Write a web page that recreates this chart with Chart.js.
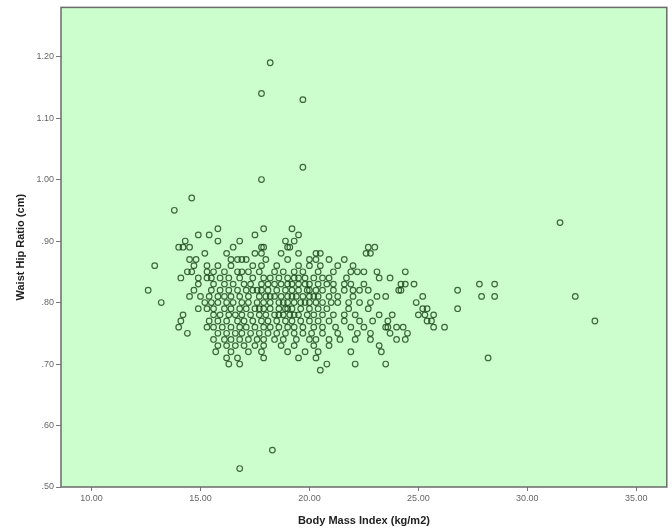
<!DOCTYPE html>
<html>
<head>
<meta charset="utf-8">
<script src="https://cdn.jsdelivr.net/npm/chart.js@4"></script>
<style>
  body { margin: 0; background: #fff; }
  #wrap { width: 672px; height: 531px; }
</style>
</head>
<body>
<div id="wrap"><canvas id="scatterChart"></canvas></div>
<script>
// tick labels
const xTicks = [10, 15, 20, 25, 30, 35];
const yTicks = [0.5, 0.6, 0.7, 0.8, 0.9, 1.0, 1.1, 1.2];

const whrLevels = [0.92, 0.91, 0.90, 0.89, 0.88, 0.87, 0.86, 0.85, 0.84, 0.83, 0.82,
                   0.81, 0.80, 0.79, 0.78, 0.77, 0.76, 0.75, 0.74, 0.73, 0.72, 0.71, 0.70, 0.69];
const bmiRows = [
  [15.8, 17.9, 19.2],
  [14.9, 15.4, 17.5, 19.5],
  [14.3, 15.8, 16.8, 18.9, 19.3],
  [14.0, 14.2, 14.5, 16.5, 17.8, 17.9, 19.0, 19.1, 22.7, 23.0],
  [15.2, 16.2, 17.5, 17.8, 18.7, 19.5, 20.3, 20.5, 22.6, 22.8],
  [14.5, 14.8, 16.4, 16.7, 16.9, 17.1, 18.0, 19.0, 20.0, 20.3, 20.9, 21.6],
  [12.9, 14.7, 15.3, 15.8, 16.4, 17.4, 17.8, 18.5, 19.5, 20.0, 20.5, 21.3, 22.0],
  [14.4, 14.6, 15.3, 15.6, 16.1, 16.7, 16.9, 17.2, 17.7, 18.4, 18.8, 19.3, 19.7, 20.4, 21.1, 21.9, 22.2, 22.5, 23.1, 24.4],
  [14.1, 14.9, 15.3, 15.5, 15.9, 16.3, 16.8, 17.4, 17.9, 18.2, 18.6, 19.0, 19.3, 19.5, 19.8, 20.2, 20.6, 20.9, 21.7, 23.2, 23.7],
  [14.9, 15.6, 16.1, 16.5, 17.0, 17.3, 17.8, 18.1, 18.4, 18.7, 19.0, 19.2, 19.5, 19.8, 20.0, 20.4, 20.8, 21.1, 21.6, 21.9, 22.5, 24.2, 24.4, 24.8],
  [12.6, 14.7, 15.5, 15.9, 16.3, 16.7, 17.1, 17.4, 17.6, 17.8, 18.1, 18.5, 18.9, 19.2, 19.5, 19.9, 20.0, 20.3, 20.6, 21.1, 21.6, 22.0, 22.3, 22.7, 24.1, 24.2],
  [14.5, 15.0, 15.4, 15.8, 16.1, 16.4, 16.8, 17.2, 17.7, 18.0, 18.2, 18.4, 18.7, 19.0, 19.2, 19.4, 19.7, 20.0, 20.2, 20.4, 20.9, 21.3, 22.0, 23.1, 23.5, 25.2],
  [13.2, 15.2, 15.5, 15.8, 16.2, 16.5, 16.9, 17.2, 17.6, 17.9, 18.2, 18.6, 18.8, 19.0, 19.3, 19.6, 19.8, 20.0, 20.3, 20.6, 21.0, 21.3, 21.8, 22.3, 22.8, 24.9],
  [14.9, 15.3, 15.6, 16.1, 16.4, 16.8, 17.1, 17.5, 17.7, 17.9, 18.2, 18.6, 18.9, 19.0, 19.2, 19.6, 20.0, 20.4, 20.8, 21.8, 22.7, 25.2, 25.4, 26.8],
  [14.2, 15.6, 15.9, 16.3, 16.6, 16.9, 17.3, 17.7, 18.0, 18.4, 18.6, 18.8, 19.1, 19.3, 19.5, 19.9, 20.2, 20.6, 21.1, 21.6, 22.1, 23.2, 23.8, 25.0, 25.3, 25.7],
  [14.1, 15.4, 15.8, 16.2, 16.7, 17.0, 17.4, 17.8, 18.1, 18.5, 18.9, 19.2, 19.6, 20.0, 20.4, 20.9, 21.6, 22.3, 22.9, 23.6, 25.4, 25.6, 33.1],
  [14.0, 15.3, 15.6, 16.0, 16.4, 16.8, 17.1, 17.5, 17.9, 18.2, 18.6, 19.0, 19.3, 19.7, 20.2, 20.6, 21.2, 21.9, 22.5, 23.5, 23.6, 24.0, 24.3, 25.7, 26.2],
  [14.4, 15.8, 16.2, 16.6, 16.9, 17.3, 17.7, 18.1, 18.5, 18.9, 19.3, 19.7, 20.1, 20.6, 21.3, 22.2, 22.8, 23.7, 24.5],
  [15.6, 16.1, 16.4, 16.8, 17.2, 17.6, 17.9, 18.4, 18.8, 19.4, 20.0, 20.3, 20.9, 21.4, 22.1, 22.8, 24.0, 24.4],
  [15.8, 16.2, 16.6, 17.0, 17.5, 17.9, 18.7, 19.3, 20.2, 20.9, 23.2],
  [15.7, 16.4, 17.2, 17.8, 19.0, 19.8, 20.4, 21.9, 23.3],
  [16.2, 16.7, 17.9, 19.5, 20.3, 28.2],
  [16.3, 16.8, 20.8, 22.1, 23.5],
  [20.5]
];

// scattered points outside the main cluster
const extraBmi = [18.2, 17.8, 19.7, 19.7, 17.8, 14.6, 13.8, 31.5, 27.8, 28.5, 26.8, 27.9, 28.5, 32.2, 18.3, 16.8];
const extraWhr = [1.19, 1.14, 1.13, 1.02, 1.00, 0.97, 0.95, 0.93, 0.83, 0.83, 0.82, 0.81, 0.81, 0.81, 0.56, 0.53];

const points = [];
whrLevels.forEach((w, i) => {
    bmiRows[i].forEach(b => points.push({ x: b, y: w }));
});
extraBmi.forEach((b, i) => points.push({ x: b, y: extraWhr[i] }));

// green plot area + frame like SPSS
const plotFrame = {
    id: 'plotFrame',
    beforeDatasetsDraw(chart) {
        const { ctx, chartArea: a } = chart;
        ctx.save();
        ctx.fillStyle = '#ccfdcc';
        ctx.fillRect(a.left, a.top, a.right - a.left, a.bottom - a.top);
        ctx.restore();
    },
    afterDatasetsDraw(chart) {
        const { ctx, chartArea: a } = chart;
        ctx.save();
        ctx.strokeStyle = '#6b6b6b';
        ctx.lineWidth = 1.5;
        ctx.strokeRect(a.left, a.top, a.right - a.left, a.bottom - a.top);
        ctx.restore();
    }
};

const ctx = document.getElementById('scatterChart').getContext('2d');
new Chart(ctx, {
    type: 'scatter',
    data: {
        datasets: [{
            data: points,
            pointStyle: 'circle',
            pointRadius: 2.8,
            pointBorderWidth: 1.2,
            pointBorderColor: 'rgba(25, 65, 25, 0.8)',
            pointBackgroundColor: 'rgba(0,0,0,0)'
        }]
    },
    options: {
        responsive: true,
        maintainAspectRatio: false,
        animation: false,
        layout: { padding: { top: 7, right: 5, left: 0, bottom: 0 } },
        plugins: {
            legend: { display: false },
            tooltip: { enabled: false }
        },
        scales: {
            x: {
                type: 'linear',
                min: 8.6,
                max: 36.4,
                afterBuildTicks: s => { s.ticks = xTicks.map(v => ({ value: v })); },
                afterFit: s => { s.height = 44; },
                grid: { drawOnChartArea: false, drawTicks: true, tickLength: 4, color: '#777' },
                border: { display: false },
                ticks: {
                    color: '#666',
                    font: { family: 'Liberation Sans', size: 9 },
                    padding: 2,
                    maxRotation: 0,
                    callback: v => v.toFixed(2)
                },
                title: {
                    display: true,
                    text: 'Body Mass Index (kg/m2)',
                    color: '#222',
                    font: { family: 'Liberation Sans', size: 11, weight: 'bold' },
                    padding: { top: 0, bottom: 3 }
                }
            },
            y: {
                type: 'linear',
                min: 0.5,
                max: 1.28,
                afterBuildTicks: s => { s.ticks = yTicks.map(v => ({ value: v })); },
                afterFit: s => { s.width = 61; },
                grid: { drawOnChartArea: false, drawTicks: true, tickLength: 5, color: '#777' },
                border: { display: false },
                ticks: {
                    color: '#666',
                    font: { family: 'Liberation Sans', size: 9 },
                    padding: 2,
                    callback: v => v < 1 ? v.toFixed(2).slice(1) : v.toFixed(2)
                },
                title: {
                    display: true,
                    text: 'Waist Hip Ratio (cm)',
                    color: '#222',
                    font: { family: 'Liberation Sans', size: 11, weight: 'bold' },
                    padding: { top: 14, bottom: 0 }
                }
            }
        }
    },
    plugins: [plotFrame]
});
</script>
</body>
</html>
